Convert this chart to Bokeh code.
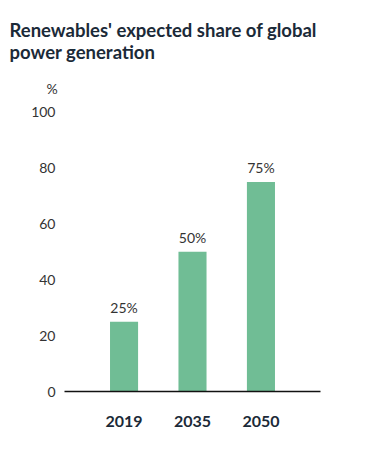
from bokeh.plotting import figure
from bokeh.models import ColumnDataSource, FactorRange, Range1d, Title, FixedTicker
from bokeh.core.properties import value
from bokeh.embed import file_html
from bokeh.resources import INLINE

years = ["2019", "2035", "2050"]
shares = [25, 50, 75]
share_labels = ["25%", "50%", "75%"]
y_ticks = [0, 20, 40, 60, 80, 100]

src = ColumnDataSource(dict(year=years, share=shares, label=share_labels))

p = figure(width=350, height=440, output_backend="svg", toolbar_location=None,
           x_range=FactorRange(*years, range_padding=0.37, range_padding_units="absolute"),
           y_range=Range1d(0, 102),
           min_border_left=64, min_border_right=30, min_border_bottom=49, min_border_top=0)

# top spacer (outermost title slot)
p.title = Title(text=" ", text_font="Lato", text_font_size="7.5px", standoff=0)
p.add_layout(Title(text="%", text_font="Lato", text_font_size="14px", text_font_style="normal",
                   text_color="#333333", offset=-18, standoff=19), "above")
p.add_layout(Title(text="Renewables' expected share of global\npower generation",
                   text_font="Lato", text_font_size="18.5px", text_font_style="bold",
                   text_color="#1b2a38", offset=-55, standoff=11), "above")

p.vbar(x="year", top="share", width=0.41, source=src, color="#70bd95", line_color=None)
p.text(x="year", y="share", text="label", source=src, text_align="center",
       text_baseline="bottom", y_offset=-6, text_font=value("Lato"),
       text_font_size="14px", text_color="#333333")

p.xgrid.visible = False
p.ygrid.visible = False
p.outline_line_color = None

p.yaxis.ticker = FixedTicker(ticks=y_ticks)
p.yaxis.axis_line_color = None
p.yaxis.major_tick_line_color = None
p.yaxis.minor_tick_line_color = None
p.yaxis.major_label_text_font = "Lato"
p.yaxis.major_label_text_font_size = "14px"
p.yaxis.major_label_text_color = "#333333"
p.yaxis.major_label_standoff = 3

p.xaxis.axis_line_color = "#111111"
p.xaxis.axis_line_width = 1.5
p.xaxis.major_tick_line_color = None
p.xaxis.minor_tick_line_color = None
p.xaxis.major_label_text_font = "Lato"
p.xaxis.major_label_text_font_style = "bold"
p.xaxis.major_label_text_font_size = "16px"
p.xaxis.major_label_text_color = "#1b2a38"
p.xaxis.major_label_standoff = 18

open("out.html", "w").write(file_html(p, INLINE))
